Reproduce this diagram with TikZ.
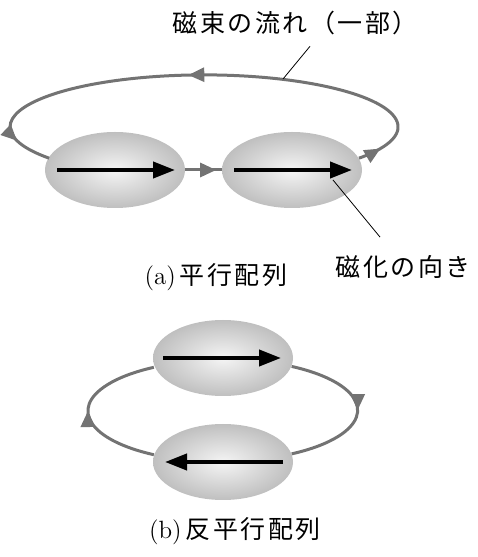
\documentclass[tikz,border=0pt]{standalone}
\usepackage{fontspec}
\newfontfamily\jp[LetterSpace=10]{Noto Sans CJK JP}
\usetikzlibrary{arrows.meta,%
                shapes,decorations.markings}

\tikzset{
  magnet/.style={ellipse,minimum width=70pt,minimum height=38pt,inner sep=0pt,
    inner color=gray!8,outer color=gray!50},
  spin/.style={line width=2pt,-{Triangle[length=11pt,width=8pt]}},
  flux/.style={draw=black!55,line width=1.5pt},
  fluxmark/.style={postaction={decorate,decoration={markings,
    mark=at position #1 with {\arrow[black!55]{Triangle[length=8pt,width=7pt]}}}}},
  leader/.style={line width=0.4pt},
  jtext/.style={font=\jp\fontsize{12.5}{15}\selectfont,inner sep=0pt}
}

\begin{document}
\begin{tikzpicture}[x=0.5pt,y=0.5pt]
\useasboundingbox (0,0) rectangle (477,557);
\node[magnet] (m1) at (115,387) {};
\node[magnet] (m2) at (292,387) {};
\node[magnet] (m3) at (223,199) {};
\node[magnet] (m4) at (223,95) {};
\draw[flux,fluxmark=0.045,fluxmark=0.53,fluxmark=0.93] (m2.10)
  arc[start angle=-37,end angle=217,x radius=97pt,y radius=26pt];
\draw[flux,fluxmark=0.85] (m1) -- (m2);
\draw[flux,fluxmark=0.5] (m3.-7)
  arc[start angle=59,end angle=-59,x radius=68pt,y radius=25.5pt];
\draw[flux,fluxmark=0.5] (m4.174)
  arc[start angle=239,end angle=121,x radius=68pt,y radius=25.5pt];
\draw[spin] ([xshift=-29pt]m1.center) -- ([xshift=30pt]m1.center);
\draw[spin] ([xshift=-29pt]m2.center) -- ([xshift=30pt]m2.center);
\draw[spin] ([xshift=-30pt]m3.center) -- ([xshift=29pt]m3.center);
\draw[spin] ([xshift=30pt]m4.center) -- ([xshift=-29pt]m4.center);
\node[jtext] (fluxlbl) at (295,534) {磁束の流れ（一部）};
\node[jtext] (magn) at (403,290) {磁化の向き};
\node[jtext] (capa) at (216,280) {{\rmfamily(a)}\,平行配列};
\node[jtext] (capb) at (235,26) {{\rmfamily(b)}\,反平行配列};
\coordinate (fluxpt) at (283,478);
\draw[leader] ([shift={(7.5pt,-5.5pt)}]fluxlbl.south) -- (fluxpt);
\draw[leader] ([shift={(20.5pt,-5pt)}]m2.center) -- ([shift={(-11.5pt,9pt)}]magn.north);
\end{tikzpicture}
\end{document}
